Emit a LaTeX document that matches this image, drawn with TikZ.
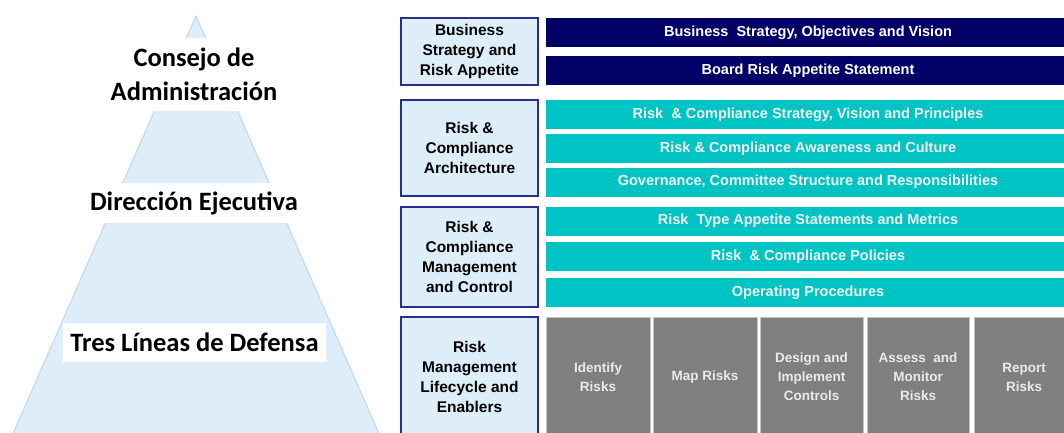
\documentclass[tikz,border=0pt]{standalone}
\usepackage{fontspec}
\setmainfont{Carlito}
\newfontfamily\arialf{Liberation Sans}
\definecolor{pyrfill}{HTML}{DDEDF9}
\definecolor{pyredge}{HTML}{BDD9F0}
\definecolor{lblfill}{HTML}{DDEEF9}
\definecolor{lbledge}{HTML}{2B2E8C}
\definecolor{navybar}{HTML}{000066}
\definecolor{tealbar}{HTML}{00C4C4}
\definecolor{gboxfill}{HTML}{7F7F7F}
\definecolor{gboxedge}{HTML}{C4C4C4}
\definecolor{gtext}{HTML}{EAEAEA}
\definecolor{ttext}{HTML}{F4F4F4}
\tikzset{
  band/.style={fill=white, inner sep=0pt, align=center, font=\bfseries\fontsize{26.5}{34}\selectfont},
  lbl/.style={draw=lbledge, line width=1.5pt, fill=lblfill, inner sep=0pt, align=center,
    minimum width=137pt, font=\arialf\bfseries\fontsize{15.5}{20}\selectfont},
  bar/.style={fill=#1, inner sep=0pt, minimum width=524pt, minimum height=29pt,
    font=\arialf\bfseries\fontsize{14.5}{17}\selectfont},
  gbox/.style={fill=gboxfill, draw=gboxedge, line width=0.8pt, inner sep=0pt, align=center,
    minimum height=120pt, text=gtext, font=\arialf\bfseries\fontsize{13.5}{19}\selectfont}
}
\begin{document}
\begin{tikzpicture}[x=1pt,y=-1pt]
\useasboundingbox (0,0) rectangle (1064,432);
% pyramid
\filldraw[fill=pyrfill, draw=pyredge, line width=1pt] (196,16) -- (380,436) -- (12,436) -- cycle;
\node[band, minimum width=168pt, minimum height=73pt] (c1) at (194,74.5) {Consejo de\\Administración};
\node[band, minimum width=238pt, minimum height=40pt] (c2) at (194,203) {Dirección Ejecutiva};
\node[band, minimum width=263pt, minimum height=39pt] (c3) at (194.5,342.5) {Tres Líneas de Defensa};
% label boxes
\node[lbl, minimum height=67pt] (l1) at (469.5,51.5) {Business\\Strategy and\\Risk Appetite};
\node[lbl, minimum height=96pt] (l2) at (469.5,148) {Risk \&\\Compliance\\Architecture};
\node[lbl, minimum height=100pt] (l3) at (469.5,257) {Risk \&\\Compliance\\Management\\and Control};
\node[lbl, minimum height=120pt] (l4) at (469.5,377) {Risk\\Management\\Lifecycle and\\Enablers};
% navy bars
\node[bar=navybar, text=white] (n1) at (808,32.5) {Business\ \ Strategy, Objectives and Vision};
\node[bar=navybar, text=white] (n2) at (808,70.5) {Board Risk Appetite Statement};
% teal bars
\node[bar=tealbar, text=ttext] (t1) at (808,114.5) {Risk\ \ \& Compliance Strategy, Vision and Principles};
\node[bar=tealbar, text=ttext] (t2) at (808,148.5) {Risk \& Compliance Awareness and Culture};
\node[bar=tealbar, text=ttext] (t3) at (808,182) {Governance, Committee Structure and Responsibilities};
\node[bar=tealbar, text=ttext] (t4) at (808,221) {Risk\ \ Type Appetite Statements and Metrics};
\node[bar=tealbar, text=ttext] (t5) at (808,256.5) {Risk\ \ \& Compliance Policies};
\node[bar=tealbar, text=ttext] (t6) at (808,292.5) {Operating Procedures};
% gray boxes
\node[gbox, minimum width=104pt] (g1) at (598,377) {Identify\\Risks};
\node[gbox, minimum width=104pt] (g2) at (705,377) {Map Risks};
\node[gbox, minimum width=103pt] (g3) at (811.5,377) {Design and\\Implement\\Controls};
\node[gbox, minimum width=102pt] (g4) at (918,377) {Assess\ \ and\\Monitor\\Risks};
\node[gbox, minimum width=100pt] (g5) at (1024,377) {Report\\Risks};
\end{tikzpicture}
\end{document}
